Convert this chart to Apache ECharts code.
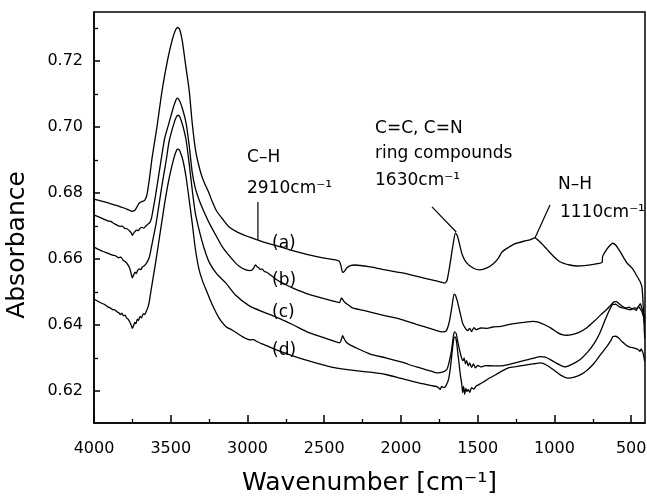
<!DOCTYPE html>
<html>
<head>
<meta charset="utf-8">
<script src="https://cdn.jsdelivr.net/npm/echarts@6/dist/echarts.min.js"></script>
<style>
html,body{margin:0;padding:0;background:#fff;}
#chart{width:647px;height:502px;}
</style>
</head>
<body>
<div id="chart"></div>
<script>
// ---- data (wavenumber cm^-1, absorbance) ----
const curveA = [
[4000,0.6782],[3950,0.6776],[3900,0.6769],[3850,0.6762],[3800,0.6754],[3770,0.6748],[3750,0.6745],[3735,0.6747],[3720,0.6758],[3705,0.6770],[3690,0.6774],[3670,0.6778],[3655,0.6795],[3640,0.6840],[3621,0.6909],[3590,0.7000],[3556,0.7112],[3520,0.7205],[3490,0.7265],[3468,0.7295],[3455,0.7302],[3442,0.7296],[3425,0.7262],[3405,0.7195],[3380,0.7112],[3360,0.7012],[3340,0.6935],[3320,0.6889],[3300,0.6855],[3280,0.6830],[3255,0.6805],[3230,0.6775],[3204,0.6748],[3160,0.6720],[3119,0.6697],[3060,0.6680],[2990,0.6667],[2935,0.6658],[2900,0.6652],[2850,0.6645],[2770,0.6635],[2700,0.6625],[2600,0.6613],[2500,0.6603],[2420,0.6597],[2400,0.6592],[2390,0.6578],[2380,0.6560],[2370,0.6562],[2355,0.6572],[2330,0.6580],[2300,0.6582],[2200,0.6576],[2100,0.6567],[1990,0.6558],[1900,0.6548],[1800,0.6537],[1740,0.6530],[1715,0.6527],[1700,0.6535],[1682,0.6580],[1662,0.6640],[1645,0.6679],[1632,0.6670],[1616,0.6640],[1600,0.6612],[1575,0.6590],[1530,0.6573],[1487,0.6567],[1440,0.6573],[1400,0.6585],[1370,0.6600],[1340,0.6622],[1300,0.6635],[1260,0.6646],[1200,0.6654],[1160,0.6658],[1128,0.6664],[1090,0.6650],[1050,0.6630],[1010,0.6610],[965,0.6592],[900,0.6582],[850,0.6579],[790,0.6581],[720,0.6586],[690,0.6590],[686,0.6608],[670,0.6622],[645,0.6638],[620,0.6648],[600,0.6642],[575,0.6625],[550,0.6605],[527,0.6588],[490,0.6570],[462,0.6548],[440,0.6530],[430,0.6515],[424,0.6480],[420,0.6440],[416,0.6400],[412,0.6360]
];
const curveB = [
[4000,0.6733],[3970,0.6728],[3940,0.6722],[3910,0.6716],[3890,0.6714],[3870,0.6708],[3850,0.6703],[3830,0.6699],[3815,0.6700],[3800,0.6693],[3785,0.6692],[3770,0.6686],[3758,0.6680],[3750,0.6672],[3742,0.6678],[3732,0.6684],[3722,0.6688],[3712,0.6686],[3700,0.6693],[3688,0.6696],[3675,0.6694],[3662,0.6700],[3648,0.6706],[3635,0.6712],[3625,0.6725],[3600,0.6790],[3576,0.6861],[3540,0.6965],[3510,0.7015],[3488,0.7052],[3470,0.7078],[3458,0.7088],[3445,0.7082],[3425,0.7058],[3400,0.7012],[3380,0.6945],[3360,0.6863],[3340,0.6815],[3315,0.6779],[3282,0.6742],[3249,0.6709],[3200,0.6667],[3165,0.6638],[3100,0.6600],[3054,0.6578],[3010,0.6567],[2980,0.6565],[2962,0.6571],[2948,0.6582],[2938,0.6577],[2925,0.6573],[2915,0.6568],[2905,0.6570],[2890,0.6562],[2875,0.6560],[2850,0.6552],[2812,0.6538],[2750,0.6522],[2700,0.6511],[2600,0.6493],[2500,0.6480],[2420,0.6470],[2400,0.6468],[2388,0.6482],[2378,0.6476],[2365,0.6468],[2340,0.6460],[2316,0.6452],[2250,0.6445],[2200,0.6439],[2140,0.6432],[2060,0.6424],[1990,0.6416],[1900,0.6402],[1850,0.6395],[1780,0.6385],[1729,0.6379],[1705,0.6382],[1685,0.6410],[1668,0.6455],[1654,0.6494],[1645,0.6490],[1630,0.6468],[1615,0.6438],[1598,0.6405],[1580,0.6390],[1565,0.6383],[1552,0.6390],[1540,0.6380],[1525,0.6392],[1510,0.6386],[1480,0.6391],[1440,0.6390],[1402,0.6394],[1350,0.6396],[1300,0.6401],[1250,0.6405],[1200,0.6408],[1141,0.6411],[1100,0.6408],[1060,0.6400],[1020,0.6390],[980,0.6377],[945,0.6370],[920,0.6369],[880,0.6372],[840,0.6378],[789,0.6392],[740,0.6412],[700,0.6430],[658,0.6448],[630,0.6462],[612,0.6470],[595,0.6471],[575,0.6463],[555,0.6456],[535,0.6452],[515,0.6454],[495,0.6449],[478,0.6452],[462,0.6450],[450,0.6458],[440,0.6465],[432,0.6452],[425,0.6445],[418,0.6432],[412,0.6420]
];
const curveC = [
[4000,0.6636],[3975,0.6630],[3950,0.6625],[3925,0.6620],[3900,0.6616],[3880,0.6612],[3860,0.6610],[3840,0.6604],[3825,0.6606],[3810,0.6596],[3795,0.6592],[3782,0.6585],[3770,0.6575],[3760,0.6560],[3750,0.6543],[3742,0.6552],[3733,0.6560],[3725,0.6556],[3715,0.6566],[3705,0.6570],[3695,0.6568],[3685,0.6576],[3672,0.6580],[3660,0.6586],[3648,0.6596],[3638,0.6608],[3620,0.6650],[3595,0.6709],[3560,0.6815],[3530,0.6898],[3510,0.6958],[3480,0.7010],[3462,0.7032],[3452,0.7036],[3440,0.7030],[3420,0.7002],[3400,0.6961],[3380,0.6890],[3360,0.6810],[3340,0.6740],[3315,0.6688],[3282,0.6632],[3249,0.6590],[3200,0.6555],[3140,0.6527],[3080,0.6492],[2988,0.6458],[2900,0.6440],[2812,0.6424],[2700,0.6400],[2600,0.6377],[2466,0.6356],[2400,0.6346],[2390,0.6354],[2380,0.6368],[2372,0.6360],[2360,0.6350],[2340,0.6342],[2280,0.6328],[2200,0.6312],[2094,0.6300],[2000,0.6288],[1900,0.6273],[1800,0.6260],[1768,0.6255],[1725,0.6258],[1700,0.6266],[1685,0.6290],[1670,0.6325],[1658,0.6368],[1650,0.6379],[1640,0.6374],[1628,0.6345],[1615,0.6318],[1605,0.6300],[1595,0.6292],[1588,0.6300],[1580,0.6282],[1572,0.6292],[1562,0.6276],[1552,0.6285],[1540,0.6272],[1528,0.6282],[1515,0.6270],[1500,0.6278],[1480,0.6273],[1450,0.6277],[1400,0.6276],[1350,0.6276],[1300,0.6280],[1250,0.6286],[1200,0.6292],[1141,0.6299],[1090,0.6304],[1060,0.6303],[1030,0.6296],[1000,0.6288],[960,0.6278],[932,0.6273],[890,0.6280],[834,0.6295],[780,0.6320],[740,0.6345],[704,0.6376],[670,0.6415],[640,0.6447],[620,0.6462],[600,0.6463],[580,0.6456],[554,0.6452],[530,0.6449],[505,0.6446],[485,0.6450],[468,0.6444],[452,0.6456],[440,0.6448],[430,0.6440],[420,0.6425],[412,0.6405]
];
const curveD = [
[4000,0.6479],[3975,0.6472],[3950,0.6466],[3930,0.6462],[3910,0.6455],[3895,0.6452],[3880,0.6447],[3865,0.6446],[3850,0.6440],[3838,0.6437],[3828,0.6432],[3818,0.6436],[3808,0.6428],[3798,0.6430],[3788,0.6422],[3778,0.6418],[3768,0.6410],[3758,0.6400],[3750,0.6390],[3742,0.6398],[3735,0.6408],[3727,0.6404],[3718,0.6418],[3710,0.6414],[3700,0.6426],[3690,0.6422],[3680,0.6434],[3670,0.6432],[3660,0.6441],[3650,0.6452],[3640,0.6470],[3628,0.6506],[3595,0.6600],[3576,0.6658],[3540,0.6768],[3510,0.6846],[3480,0.6905],[3462,0.6930],[3452,0.6933],[3440,0.6927],[3420,0.6898],[3400,0.6848],[3380,0.6780],[3360,0.6709],[3340,0.6632],[3315,0.6567],[3290,0.6530],[3269,0.6506],[3230,0.6462],[3184,0.6420],[3140,0.6395],[3100,0.6385],[3034,0.6365],[2980,0.6355],[2960,0.6356],[2940,0.6350],[2900,0.6342],[2812,0.6325],[2700,0.6306],[2600,0.6291],[2466,0.6274],[2350,0.6265],[2200,0.6257],[2100,0.6250],[2000,0.6238],[1900,0.6226],[1800,0.6216],[1760,0.6212],[1745,0.6205],[1735,0.6214],[1720,0.6210],[1705,0.6218],[1690,0.6235],[1678,0.6270],[1666,0.6320],[1656,0.6358],[1648,0.6364],[1640,0.6355],[1632,0.6325],[1622,0.6285],[1612,0.6245],[1604,0.6222],[1598,0.6195],[1592,0.6214],[1585,0.6190],[1578,0.6208],[1570,0.6198],[1562,0.6205],[1552,0.6196],[1540,0.6210],[1525,0.6206],[1510,0.6215],[1490,0.6220],[1460,0.6228],[1420,0.6240],[1380,0.6250],[1337,0.6262],[1300,0.6270],[1250,0.6274],[1200,0.6278],[1141,0.6282],[1090,0.6285],[1050,0.6278],[1000,0.6262],[960,0.6248],[913,0.6239],[870,0.6242],[820,0.6252],[789,0.6262],[740,0.6285],[700,0.6310],[658,0.6335],[630,0.6355],[619,0.6365],[600,0.6366],[580,0.6360],[560,0.6350],[530,0.6338],[508,0.6333],[480,0.6330],[455,0.6326],[443,0.6320],[435,0.6328],[425,0.6318],[418,0.6305],[412,0.6290]
];

// ---- axis ticks ----
const xMajor = [4000,3500,3000,2500,2000,1500,1000,500];
const xMinor = [3750,3250,2750,2250,1750,1250,750];
const yMajor = [0.62,0.64,0.66,0.68,0.70,0.72];
const yMinor = [0.63,0.65,0.67,0.69,0.71,0.73];

// ---- annotations ----
const annotTexts = ['C\u2013H','2910cm\u207B\u00B9','C=C, C=N','ring compounds','1630cm\u207B\u00B9','N\u2013H','1110cm\u207B\u00B9','(a)','(b)','(c)','(d)'];
const annotAt = [[3003,0.6909],[3003,0.6815],[2169,0.6997],[2169,0.6921],[2169,0.6839],[977,0.6827],[964,0.6742],[2840,0.6648],[2840,0.6536],[2840,0.6439],[2840,0.6324]];
const lead2910 = [[2932,0.6773],[2932,0.6658]];
const lead1630 = [[1798,0.6758],[1640,0.6682]];
const lead1110 = [[1029,0.6764],[1127,0.6664]];

const FONT = 'DejaVu Sans';
const chart = echarts.init(document.getElementById('chart'), null, {renderer:'canvas'});

function curve(name, data){
  return {name:name, type:'line', data:data, showSymbol:false, smooth:0.2,
    lineStyle:{color:'#000', width:1.3}, silent:true, z:3};
}
function lead(data){
  return {type:'line', data:data, showSymbol:false, lineStyle:{color:'#000', width:1.2}, silent:true, z:4};
}

const option = {
  animation:false,
  backgroundColor:'#fff',
  grid:{left:94, right:2, top:12, bottom:79, containLabel:false, outerBoundsMode:'none',
        show:true, borderColor:'#000', borderWidth:1.5, backgroundColor:'transparent'},
  xAxis:[
    {type:'value', inverse:true, min:410, max:4000, position:'bottom',
     axisLine:{lineStyle:{color:'#000', width:1.5}},
     axisTick:{inside:true, length:8, customValues:xMajor, lineStyle:{color:'#000', width:1.5}},
     axisLabel:{customValues:xMajor, color:'#000', fontFamily:FONT, fontSize:16, margin:18,
       formatter:function(v){return String(v);}},
     splitLine:{show:false},
     name:'Wavenumber [cm\u207B\u00B9]', nameLocation:'middle', nameGap:48,
     nameTextStyle:{color:'#000', fontFamily:FONT, fontSize:25}},
    {type:'value', inverse:true, min:410, max:4000, position:'bottom',
     axisLine:{show:false},
     axisTick:{inside:true, length:4, customValues:xMinor, lineStyle:{color:'#000', width:1.3}},
     axisLabel:{show:false}, splitLine:{show:false}}
  ],
  yAxis:[
    {type:'value', min:0.6103, max:0.7349, position:'left',
     axisLine:{lineStyle:{color:'#000', width:1.5}},
     axisTick:{inside:true, length:6, customValues:yMajor, lineStyle:{color:'#000', width:1.5}},
     axisLabel:{customValues:yMajor, color:'#000', fontFamily:FONT, fontSize:16, margin:11,
       formatter:function(v){return v.toFixed(2);}},
     splitLine:{show:false}},
    {type:'value', min:0.6103, max:0.7349, position:'left',
     axisLine:{show:false},
     axisTick:{inside:true, length:4, customValues:yMinor, lineStyle:{color:'#000', width:1.3}},
     axisLabel:{show:false}, splitLine:{show:false}}
  ],
  graphic:[
    {type:'text', x:17, y:245, rotation:Math.PI/2,
     style:{text:'Absorbance', fill:'#000', font:'25px "DejaVu Sans"', textAlign:'center', textVerticalAlign:'middle'}}
  ],
  series:[
    curve('(a)', curveA), curve('(b)', curveB), curve('(c)', curveC), curve('(d)', curveD),
    lead(lead2910), lead(lead1630), lead(lead1110),
    {type:'scatter', symbolSize:0, silent:true, z:5,
     data: annotAt.map(function(p,i){return {value:p, name:annotTexts[i]};}),
     label:{show:true, position:'right', distance:0, color:'#000', opacity:1, fontFamily:FONT, fontSize:17,
       formatter:function(p){return p.name;}}}
  ]
};
chart.setOption(option);
</script>
</body>
</html>
